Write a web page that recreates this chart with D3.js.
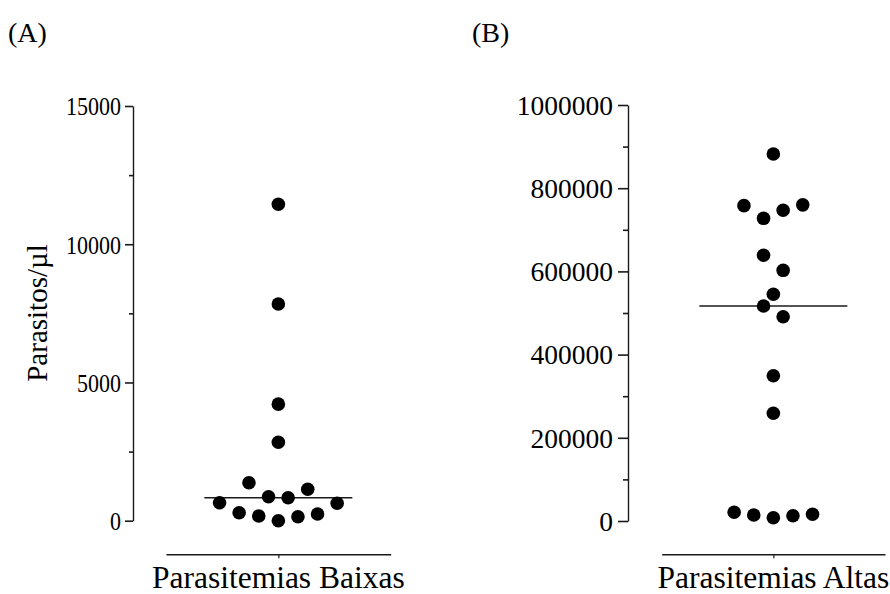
<!DOCTYPE html>
<html>
<head>
<meta charset="utf-8">
<script src="https://cdn.jsdelivr.net/npm/d3@7"></script>
<style>
  html, body { margin: 0; padding: 0; background: #fff; }
</style>
</head>
<body>
<svg id="chart" width="890" height="594"></svg>
<script>
// Parasite counts per µl, one column per group (entry order of the columns)
const lowCategory = "Parasitemias Baixas";
const lowValues = [0, 145, 170, 242, 289, 629, 651, 832, 868, 1136, 1374, 2836, 4215, 7838, 11444];
const lowTicks = [0, 5000, 10000, 15000];
const lowMinorTicks = [2500, 7500, 12500];

const highCategory = "Parasitemias Altas";
const highValues = [7900, 12700, 14400, 16100, 20900, 258900, 349300, 491100, 516800, 545000,
                    602600, 638700, 746900, 727600, 760000, 758000, 882200];
const highTicks = [0, 200000, 400000, 600000, 800000, 1000000];
const highMinorTicks = [100000, 300000, 500000, 700000, 900000];

const yLabel = "Parasitos/µl";
const panelLetters = ["(A)", "(B)"];

const FONT = "'Liberation Serif', 'Times New Roman', Times, serif";
const svg = d3.select("#chart").attr("font-family", FONT);
const ink = "#1a1a1a";
const dotR = 6.8;
const slot = 19.6;     // horizontal spacing between neighbouring dots
const rowBand = 20;    // dots closer than this (px) share a row

// Spread dots of a column sideways: cluster into rows, then alternate around the centre
function swarm(values, y) {
  const idx = values.map((v, i) => i).sort((a, b) => values[a] - values[b]);
  const rows = [];
  let cur = null;
  idx.forEach(i => {
    if (!cur || y(values[cur[0]]) - y(values[i]) > rowBand) { cur = [i]; rows.push(cur); }
    else cur.push(i);
  });
  const off = new Array(values.length).fill(0);
  rows.forEach(r => {
    const members = r.slice().sort((a, b) => a - b);
    const n = members.length;
    members.forEach((i, k) => {
      let s;
      if (n % 2 === 1) s = k === 0 ? 0 : Math.ceil(k / 2) * (k % 2 === 1 ? 1 : -1);
      else s = (Math.floor(k / 2) + 0.5) * (k % 2 === 0 ? 1 : -1);
      off[i] = s * slot;
    });
  });
  return off;
}

function panel(cfg) {
  const y = d3.scaleLinear().domain(cfg.domain).range([cfg.yBottom, cfg.yTop]);
  const x = d3.scalePoint().domain([cfg.category]).range([cfg.xStart, cfg.xEnd]).padding(0.5);
  const g = svg.append("g");

  // y axis with major ticks and labels
  const ya = g.append("g").attr("transform", `translate(${cfg.axisX},0)`)
    .call(d3.axisLeft(y).tickValues(cfg.ticks).tickSize(cfg.majorLen).tickSizeOuter(0)
      .tickPadding(cfg.pad).tickFormat(d3.format("d")));
  ya.attr("font-family", FONT);
  ya.select(".domain").attr("stroke", ink).attr("stroke-width", 1.4);
  ya.selectAll(".tick line").attr("stroke", ink).attr("stroke-width", 1.6);
  const labels = ya.selectAll(".tick text")
    .attr("font-size", cfg.tickFont)
    .attr("fill", "#000")
    .attr("dy", "0.34em");
  if (cfg.digitW) {
    labels.attr("textLength", d => String(d).length * cfg.digitW)
      .attr("lengthAdjust", "spacingAndGlyphs");
  }

  // minor ticks
  const ym = g.append("g").attr("transform", `translate(${cfg.axisX},0)`)
    .call(d3.axisLeft(y).tickValues(cfg.minor).tickSize(cfg.minorLen).tickSizeOuter(0).tickFormat(""));
  ym.select(".domain").remove();
  ym.selectAll(".tick line").attr("stroke", ink).attr("stroke-width", 1.6);

  // x axis: baseline with a single centred tick and category label
  const xa = g.append("g").attr("transform", `translate(0,${cfg.xAxisY})`)
    .call(d3.axisBottom(x).tickSize(4).tickSizeOuter(0).tickPadding(12));
  xa.select(".domain").attr("stroke", ink).attr("stroke-width", 1.4);
  xa.selectAll(".tick line").attr("stroke", ink).attr("stroke-width", 1.2);
  xa.selectAll(".tick text").remove();
  g.append("text")
    .attr("x", x(cfg.category)).attr("y", cfg.catY)
    .attr("text-anchor", "middle").attr("font-size", 31.5).attr("fill", "#000")
    .text(cfg.category);

  // median bar
  const med = d3.median(cfg.values);
  g.append("line")
    .attr("x1", x(cfg.category) - 74).attr("x2", x(cfg.category) + 74)
    .attr("y1", y(med)).attr("y2", y(med))
    .attr("stroke", ink).attr("stroke-width", 1.4);

  // dots
  const off = swarm(cfg.values, y);
  g.selectAll("circle.pt").data(cfg.values).join("circle")
    .attr("class", "pt")
    .attr("cx", (d, i) => x(cfg.category) + off[i])
    .attr("cy", d => y(d))
    .attr("r", dotR)
    .attr("fill", "#000");

  // panel letter
  g.append("text").attr("x", cfg.letterX).attr("y", 42)
    .attr("font-size", 28).attr("fill", "#000").text(cfg.letter);
}

panel({
  category: lowCategory, values: lowValues, domain: [0, 15000],
  ticks: lowTicks, minor: lowMinorTicks,
  yBottom: 520.7, yTop: 106, axisX: 133,
  xStart: 166, xEnd: 390.7, xAxisY: 554.3,
  majorLen: 8, minorLen: 4, pad: 4, tickFont: 26, digitW: 11,
  catY: 588, letter: panelLetters[0], letterX: 8
});

panel({
  category: highCategory, values: highValues, domain: [0, 1000000],
  ticks: highTicks, minor: highMinorTicks,
  yBottom: 521, yTop: 105, axisX: 628,
  xStart: 661.7, xEnd: 885, xAxisY: 554.3,
  majorLen: 10, minorLen: 5, pad: 5, tickFont: 27.5,
  catY: 588, letter: panelLetters[1], letterX: 472
});

// y-axis title on the left panel
svg.append("text")
  .attr("transform", "translate(47,313) rotate(-90)")
  .attr("text-anchor", "middle").attr("font-size", 29).attr("fill", "#000")
  .text(yLabel);
</script>
</body>
</html>
